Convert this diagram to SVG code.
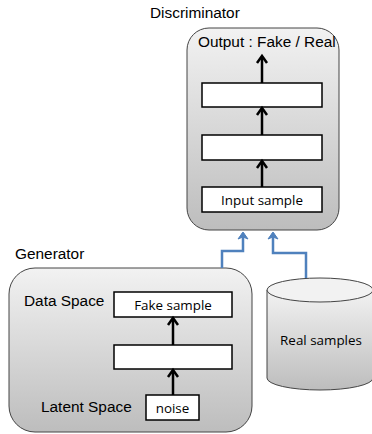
<svg xmlns="http://www.w3.org/2000/svg" width="372" height="434" viewBox="0 0 372 434">
<style>
.lbl{font-family:"Liberation Sans",Arial,sans-serif;font-size:15.4px;fill:#000}
.in{font-family:"Open Sans","Noto Sans",sans-serif;font-size:13.4px;fill:#000}
.panel{stroke:#444;stroke-width:1;fill:url(#gr)}
.box{fill:#fff;stroke:#000;stroke-width:1.5}
.flow{stroke:#000;stroke-width:2.5;fill:none;marker-end:url(#chev)}
.feed{stroke:#4f81bd;stroke-width:2.5;fill:none;marker-end:url(#blue)}
</style>
<defs>
<linearGradient id="gr" x1="0" y1="0" x2="0" y2="1">
<stop offset="0" stop-color="#f2f2f2"/>
<stop offset="1" stop-color="#bdbdbd"/>
</linearGradient>
<marker id="chev" markerWidth="8" markerHeight="8" refX="5" refY="4" orient="auto" markerUnits="userSpaceOnUse" viewBox="0 0 8 8" overflow="visible">
<path d="M-1,-1 L6,4 L-1,9" fill="none" stroke="#000" stroke-width="2.5"/>
</marker>
<marker id="blue" markerWidth="8" markerHeight="8" refX="6" refY="4" orient="auto" markerUnits="userSpaceOnUse" viewBox="0 0 8 8" overflow="visible">
<path d="M0,-1 L7,4 L0,9 L2,4 Z" fill="#4f81bd" stroke="#4f81bd" stroke-width="1"/>
</marker>
</defs>
<g id="discriminator">
<rect class="panel" x="187" y="28" width="152" height="202" rx="22"/>
<text class="lbl" x="150" y="18">Discriminator</text>
<text class="lbl" x="198" y="47">Output : Fake / Real</text>
</g>
<g id="d-layer2"><rect class="box" x="202" y="83" width="120" height="24"/></g>
<g id="d-layer1"><rect class="box" x="202" y="135" width="120" height="25"/></g>
<g id="d-input"><rect class="box" x="202" y="187" width="120" height="25"/><text class="in" x="262" y="205" text-anchor="middle">Input sample</text></g>
<g id="generator">
<rect class="panel" x="9" y="268" width="243" height="164" rx="26"/>
<text class="lbl" x="15" y="259">Generator</text>
<text class="lbl" x="24" y="306">Data Space</text>
<text class="lbl" x="41" y="412">Latent Space</text>
</g>
<g id="g-fake"><rect class="box" x="114" y="292" width="118" height="25"/><text class="in" x="173" y="310" text-anchor="middle">Fake sample</text></g>
<g id="g-layer"><rect class="box" x="114" y="345" width="118" height="24"/></g>
<g id="g-noise"><rect class="box" x="146" y="395" width="53" height="25"/><text class="in" x="172.5" y="413" text-anchor="middle">noise</text></g>
<g id="real-samples">
<path d="M267,290 L267,378 A53,12 0 0 0 373,378 L373,290" fill="url(#gr)" stroke="#444" stroke-width="1"/>
<ellipse cx="320" cy="290" rx="53" ry="12" fill="#f2f2f2" stroke="#444" stroke-width="1"/>
<text class="in" x="321" y="345" text-anchor="middle">Real samples</text>
</g>
<g id="connectors">
<path class="flow" d="M262,83 L262,57"/>
<path class="flow" d="M262,135 L262,109"/>
<path class="flow" d="M262,187 L262,162"/>
<path class="flow" d="M173,345 L173,319"/>
<path class="flow" d="M173,395 L173,371"/>
<path class="feed" d="M222,268 L222,251 L243,251 L243,233"/>
<path class="feed" d="M306,278 L306,253 L273,253 L273,233"/>
</g>
</svg>
